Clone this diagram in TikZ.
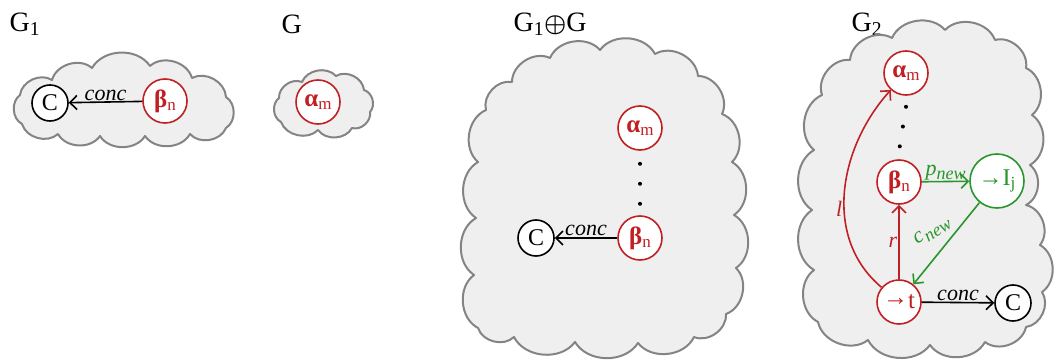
\documentclass[tikz,border=0pt]{standalone}
\usepackage{amsmath}
\usepackage{fontspec}
\setmainfont{Liberation Serif}
\usetikzlibrary{arrows.meta}
\definecolor{nred}{RGB}{192,32,36}
\definecolor{ngreen}{RGB}{40,150,44}
\definecolor{cloudfill}{RGB}{239,239,239}
\definecolor{cloudline}{RGB}{132,132,132}
\newcommand{\sub}[1]{{\fontsize{17}{17}\selectfont\raisebox{-3pt}{#1}}}
\newcommand{\isub}[1]{{\fontsize{18}{18}\selectfont\raisebox{-4pt}{\itshape #1}}}
\begin{document}
\begin{tikzpicture}[x=1pt,y=1pt,
  cloudbg/.style={draw=cloudline, fill=cloudfill, line width=2, line join=round},
  puff/.style={bend left=58},
  title/.style={anchor=west, font=\fontsize{28}{30}\selectfont},
  rnode/.style={circle, draw=nred, line width=1.6, text=nred, fill=white, minimum size=44, inner sep=0, font=\fontsize{25}{25}\selectfont},
  cnode/.style={circle, draw=black, line width=1.6, fill=white, minimum size=36, inner sep=0, font=\fontsize{24}{24}\selectfont},
  gnode/.style={circle, draw=ngreen, line width=1.6, text=ngreen, fill=white, minimum size=54, inner sep=0, font=\fontsize{24}{24}\selectfont},
  arr/.style={-{Straight Barb[length=7pt,width=14pt,line width=1.6pt]}, line width=1.6},
  lab/.style={font=\fontsize{22}{22}\selectfont\itshape, inner sep=1pt},
  dots/.style={line width=4, line cap=round, dash pattern=on 0pt off 20pt}
]
\useasboundingbox (0,0) rectangle (1057,362);

% titles
\node[title] (t1) at (6,338) {G\textsubscript{1}};
\node[title] (t2) at (278,338) {G};
\node[title] (t3) at (510,338) {G\textsubscript{1}$\boldsymbol{\oplus}$G};
\node[title] (t4t) at (848,338) {G\textsubscript{2}};

% clouds
\path[cloudbg] (22,238) to[puff] (20,267) to[puff] (52,282) to[puff] (92,294) to[puff] (150,296)
  to[puff] (192,284) to[puff] (226,265) to[puff] (226,234) to[puff] (190,228) to[puff] (145,226)
  to[puff] (100,226) to[puff] (58,228) to[puff] (22,238) -- cycle;
\path[cloudbg] (281,240) to[puff] (279,264) to[puff] (302,280) to[puff] (336,286) to[puff] (364,272)
  to[puff] (370,250) to[puff] (352,234) to[puff] (318,232) to[puff] (281,240) -- cycle;
\path[cloudbg] (478,34) to[puff] (474,87) to[puff] (476,144) to[puff] (478,200) to[puff] (486,252)
  to[puff] (512,280) to[puff] (550,304) to[puff] (600,312) to[puff] (655,308) to[puff] (698,286)
  to[puff] (722,248) to[puff] (732,200) to[puff] (734,147) to[puff] (736,94) to[puff] (726,48)
  to[puff] (694,25) to[puff] (638,19) to[puff] (575,20) to[puff] (514,25) to[puff] (478,34) -- cycle;
\path[cloudbg] (818,40) to[puff] (814,92) to[puff] (812,152) to[puff] (814,212) to[puff] (822,267)
  to[puff] (850,302) to[puff] (892,324) to[puff] (945,332) to[puff] (995,322) to[puff] (1026,294)
  to[puff] (1032,247) to[puff] (1030,197) to[puff] (1026,157) to[puff] (1040,117) to[puff] (1042,70)
  to[puff] (1026,35) to[puff] (985,20) to[puff] (930,17) to[puff] (868,22) to[puff] (818,40) -- cycle;

% G1
\node[cnode] (c1) at (50,259) {C};
\node[rnode] (b1) at (165,261) {\textbf{β}\sub{n}};
\draw[arr] (b1) -- node[lab, above] {conc} (c1);

% G
\node[rnode] (a2) at (318,260) {\textbf{α}\sub{m}};

% G1 + G
\node[rnode] (a3) at (640,234) {\textbf{α}\sub{m}};
\node[rnode] (b3) at (640,124) {\textbf{β}\sub{n}};
\node[cnode] (c3) at (536,124) {C};
\draw[dots] (a3.south) ++(0,-13) -- ([yshift=8]b3.north);
\draw[arr] (b3) -- node[lab, above] {conc} (c3);

% G2
\node[rnode] (a4) at (906,289) {\textbf{α}\sub{m}};
\node[rnode] (b4) at (899,180) {\textbf{β}\sub{n}};
\node[gnode] (ij) at (997,181) {→I\sub{j}};
\node[rnode] (tt) at (899,60) {→\raisebox{-3pt}{t}};
\node[cnode] (c4) at (1013,59) {C};
\draw[dots] (a4.south) ++(0,-11) -- ([yshift=8]b4.north);
\draw[arr, nred] (tt) to[out=140, in=228] node[lab, left, text=nred, pos=0.42] {l} (a4);
\draw[arr, nred] (tt) -- node[lab, left, text=nred] {r} (b4);
\draw[arr, ngreen] (b4) -- node[lab, above, text=ngreen] {p\isub{new}} (ij);
\draw[arr, ngreen] (ij) -- node[lab, text=ngreen, shift={(-14,12)}, rotate=32] {c\kern1pt\isub{new}} (tt);
\draw[arr] (tt) -- node[lab, above] {conc} (c4);
\end{tikzpicture}
\end{document}
